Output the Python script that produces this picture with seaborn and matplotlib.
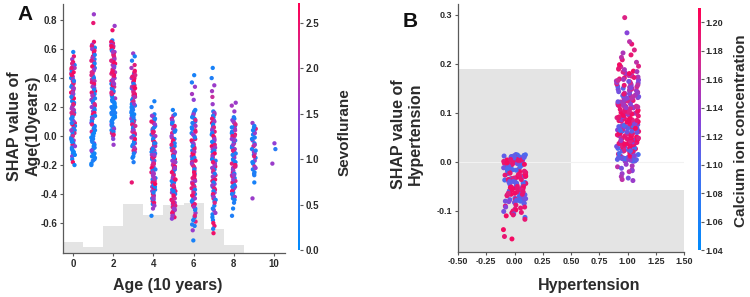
import numpy as np
import pandas as pd
import seaborn as sns
import matplotlib.pyplot as plt
from matplotlib.colors import LinearSegmentedColormap, Normalize
from matplotlib.cm import ScalarMappable

# ---------------- panel A: SHAP of Age (10 years), colour = Sevoflurane
ages = [0, 1, 2, 3, 4, 5, 6, 7, 8, 9, 10]

age0_shap = [0.58, 0.55, 0.53, 0.51, 0.49, 0.47, 0.46, 0.44, 0.43, 0.41, 0.40, 0.38, 0.37, 0.35, 0.33, 0.32,
             0.30, 0.29, 0.27, 0.25, 0.24, 0.22, 0.21, 0.19, 0.17, 0.16, 0.14, 0.12, 0.11, 0.09, 0.07, 0.06,
             0.04, 0.02, 0.01, -0.01, -0.03, -0.05, -0.06, -0.08, -0.10, -0.12, -0.14, -0.16, -0.18, -0.20,
             0.36, 0.20,
             0.50, 0.48, 0.45, 0.42, 0.39, 0.34, 0.31, 0.28, 0.26, 0.23, 0.18, 0.15, 0.13, 0.10, 0.08, 0.05,
             0.03, 0.00, -0.02, -0.04, -0.07, -0.09, -0.11, 0.44, 0.38, 0.30, 0.22, 0.12, 0.04, -0.03, 0.47,
             0.27, 0.16, 0.33, 0.09, -0.13]
age0_sevo = [0.3, 2.4, 1.6, 2.5, 0.4, 1.8, 2.6, 0.5, 2.2, 1.5, 0.3, 2.6, 1.9, 0.4, 2.3, 1.4, 2.5, 0.6, 2.1, 1.7,
             0.2, 2.4, 0.5, 1.6, 2.6, 0.3, 2.0, 1.5, 0.4, 2.5, 0.2, 1.8, 0.3, 2.2, 0.5, 0.3, 1.6, 0.2, 2.4, 0.4,
             0.3, 0.2, 1.4, 0.3, 2.5, 0.2, 2.3, 1.7,
             2.3, 1.6, 0.4, 2.5, 1.7, 0.3, 2.4, 1.5, 2.6, 0.4, 1.8, 2.2, 0.3, 1.6, 2.5, 0.4, 0.3, 2.1, 0.4, 0.2,
             1.5, 0.3, 0.2, 2.6, 0.5, 1.7, 2.3, 0.4, 1.6, 0.3, 2.4, 0.4, 2.2, 1.6, 0.5, 0.2]

age1_shap = [0.84, 0.78, 0.65, 0.63, 0.61, 0.59, 0.57, 0.55, 0.53, 0.51, 0.49, 0.47, 0.45, 0.43, 0.41, 0.39,
             0.37, 0.35, 0.33, 0.31, 0.29, 0.27, 0.25, 0.23, 0.21, 0.19, 0.17, 0.15, 0.13, 0.11, 0.09, 0.07,
             0.05, 0.03, 0.01, -0.01, -0.03, -0.05, -0.07, -0.09, -0.11, -0.13, -0.15, -0.17, -0.19, -0.20,
             0.42, 0.26, 0.00, -0.12,
             0.62, 0.60, 0.58, 0.56, 0.54, 0.52, 0.50, 0.48, 0.46, 0.44, 0.40, 0.38, 0.36, 0.34, 0.32, 0.30,
             0.28, 0.24, 0.22, 0.20, 0.18, 0.16, 0.14, 0.12, 0.10, 0.08, 0.06, 0.04, 0.02, -0.02, -0.04, -0.06,
             -0.08, -0.10, -0.14, -0.16]
age1_sevo = [1.6, 2.4, 2.5, 1.7, 0.4, 2.3, 1.5, 2.6, 0.3, 1.8, 2.2, 0.5, 1.6, 2.5, 0.4, 1.9, 2.4, 0.6, 1.5, 2.6,
             0.3, 2.0, 1.7, 0.5, 2.3, 0.4, 1.6, 2.5, 0.3, 0.5, 1.4, 0.2, 0.3, 2.1, 0.4, 0.2, 0.3, 1.5, 0.2, 0.4,
             0.3, 0.2, 0.3, 0.5, 0.2, 0.3, 2.2, 0.4, 0.3, 0.2,
             2.4, 1.6, 2.5, 0.4, 1.7, 2.3, 0.3, 2.6, 1.5, 2.2, 0.4, 1.8, 2.5, 1.6, 0.3, 2.4, 1.7, 0.4, 2.2, 1.5,
             0.3, 2.5, 0.4, 1.6, 0.3, 2.3, 0.4, 0.3, 0.2, 0.3, 0.4, 0.2, 0.3, 1.5, 0.2, 0.3]

age2_shap = [0.76, 0.73, 0.66, 0.64, 0.62, 0.60, 0.58, 0.56, 0.54, 0.52, 0.50, 0.48, 0.46, 0.44, 0.42, 0.40,
             0.38, 0.36, 0.34, 0.32, 0.30, 0.28, 0.26, 0.24, 0.22, 0.20, 0.18, 0.16, 0.14, 0.12, 0.10, 0.08,
             0.06, 0.04, 0.02, 0.00, -0.02, -0.06, 0.57, 0.49, 0.41, 0.33, 0.27, 0.21, 0.15, 0.11, 0.63, 0.37,
             0.65, 0.63, 0.61, 0.59, 0.55, 0.53, 0.51, 0.47, 0.45, 0.43, 0.39, 0.35, 0.31, 0.29, 0.25, 0.23,
             0.19, 0.17, 0.13, 0.09, 0.07, 0.05, 0.03, 0.01, 0.62, 0.58, 0.52, 0.44, 0.36, 0.30, 0.24, 0.20,
             0.16, 0.12, 0.14, 0.18]
age2_sevo = [1.6, 2.5, 0.4, 2.3, 1.7, 2.6, 1.5, 2.4, 2.0, 1.6, 2.5, 0.5, 2.2, 1.8, 2.6, 1.5, 2.3, 0.4, 2.1, 1.6,
             2.4, 0.3, 1.7, 0.3, 0.2, 0.4, 0.3, 0.2, 0.5, 0.3, 0.2, 1.5, 0.3, 0.4, 2.3, 1.6, 1.4, 1.6, 2.4, 1.7,
             2.5, 0.4, 0.3, 0.2, 0.4, 0.3, 2.2, 1.9,
             2.5, 1.6, 2.4, 0.4, 2.3, 1.7, 2.6, 1.5, 2.4, 2.2, 1.6, 2.5, 0.4, 2.3, 0.3, 0.2, 0.3, 0.4, 0.2, 0.3,
             0.4, 1.6, 0.3, 2.4, 2.6, 1.7, 2.3, 2.5, 1.6, 2.2, 0.3, 0.2, 0.4, 0.3, 0.2, 0.3]

age3_shap = [0.57, 0.55, 0.52, 0.49, 0.47, 0.45, 0.43, 0.41, 0.39, 0.37, 0.35, 0.33, 0.31, 0.29, 0.27, 0.25,
             0.23, 0.21, 0.19, 0.17, 0.15, 0.13, 0.11, 0.09, 0.07, 0.05, 0.03, 0.01, -0.01, -0.03, -0.05, -0.07,
             -0.09, -0.11, -0.14, -0.18, -0.32, 0.40, 0.34, 0.28, 0.22, 0.16, 0.10, 0.04, -0.04,
             0.44, 0.42, 0.40, 0.38, 0.36, 0.34, 0.32, 0.30, 0.28, 0.26, 0.24, 0.22, 0.20, 0.18, 0.16, 0.14,
             0.12, 0.10, 0.08, 0.06, 0.04, 0.02, 0.00, -0.02, -0.06, -0.08, -0.10, -0.12, 0.41, 0.33, 0.27,
             0.19, 0.13, 0.07, -0.01, -0.15]
age3_sevo = [1.6, 0.3, 0.4, 2.3, 1.7, 2.5, 0.4, 2.2, 2.6, 1.5, 2.4, 0.5, 2.1, 2.6, 1.8, 0.3, 2.3, 0.4, 1.6, 0.3,
             0.2, 2.4, 0.4, 0.3, 1.5, 0.2, 2.2, 1.7, 0.4, 2.5, 1.6, 0.3, 2.3, 1.5, 0.3, 0.4, 2.4, 2.5, 1.9, 2.2,
             0.3, 0.4, 2.1, 1.6, 0.3,
             2.5, 2.2, 1.6, 2.6, 0.4, 2.4, 1.7, 2.3, 2.5, 0.3, 2.2, 1.6, 0.3, 0.4, 0.3, 0.2, 1.5, 0.4, 2.4, 0.3,
             1.6, 2.3, 0.4, 2.5, 0.3, 1.7, 2.2, 0.4, 2.4, 2.6, 1.8, 0.3, 0.4, 2.1, 1.6, 0.3]

age4_shap = [0.24, 0.20, 0.15, 0.13, 0.11, 0.09, 0.07, 0.05, 0.03, 0.01, -0.01, -0.03, -0.05, -0.07, -0.09, -0.11,
             -0.13, -0.15, -0.17, -0.19, -0.21, -0.23, -0.25, -0.27, -0.29, -0.31, -0.33, -0.35, -0.37, -0.39,
             -0.41, -0.43, -0.45, -0.47, -0.50, -0.55, -0.06, -0.16, -0.26, -0.36, 0.06, -0.20, -0.30, -0.10, -0.40,
             0.14, 0.12, 0.10, 0.08, 0.04, 0.02, 0.00, -0.02, -0.04, -0.08, -0.12, -0.14, -0.18, -0.22, -0.24,
             -0.28, -0.32, -0.34, -0.38, -0.42, -0.44, -0.46, -0.48, -0.05, -0.15, -0.25, -0.35, 0.03, -0.13,
             -0.23, -0.33, -0.43, -0.09, -0.19, -0.29, -0.39]
age4_sevo = [0.3, 0.4, 0.3, 1.6, 0.4, 2.2, 0.3, 1.7, 2.5, 0.4, 1.5, 2.4, 0.3, 1.8, 2.6, 0.4, 1.6, 2.3, 0.5, 2.5,
             1.7, 0.3, 2.4, 1.5, 0.4, 2.2, 2.6, 1.6, 0.3, 2.1, 1.5, 0.4, 2.4, 0.3, 1.6, 0.3, 2.3, 0.4, 1.7, 2.5,
             0.3, 2.2, 0.4, 1.6, 2.4,
             1.6, 0.3, 2.4, 1.5, 0.4, 2.2, 1.7, 0.3, 2.5, 1.6, 0.4, 2.3, 1.5, 2.6, 0.3, 1.7, 2.4, 0.4, 1.6, 2.2,
             0.3, 2.5, 1.6, 0.4, 2.3, 1.7, 0.3, 2.4, 1.5, 0.4, 2.6, 1.6, 0.3, 2.2, 1.7, 0.4]

age5_shap = [0.18, 0.14, 0.12, 0.10, 0.08, 0.06, 0.04, 0.02, 0.00, -0.02, -0.04, -0.06, -0.08, -0.10, -0.12, -0.14,
             -0.16, -0.18, -0.20, -0.22, -0.24, -0.26, -0.28, -0.30, -0.32, -0.34, -0.36, -0.38, -0.40, -0.42,
             -0.44, -0.46, -0.48, -0.50, -0.52, -0.54, -0.56, -0.57, -0.07, -0.19, -0.31, -0.43, 0.05, -0.25, -0.37,
             0.15, 0.11, 0.07, 0.03, -0.01, -0.03, -0.05, -0.09, -0.11, -0.13, -0.15, -0.17, -0.21, -0.23, -0.27,
             -0.29, -0.33, -0.35, -0.39, -0.41, -0.45, -0.47, -0.49, -0.51, -0.53, -0.55, 0.09, -0.06, -0.14,
             -0.22, -0.30, -0.38, -0.46, -0.18, -0.34, -0.50]
age5_sevo = [0.3, 1.6, 2.4, 0.4, 1.7, 2.5, 0.3, 2.2, 1.5, 0.4, 2.6, 1.8, 0.3, 2.3, 1.6, 0.4, 2.5, 0.3, 1.7, 2.4,
             2.1, 0.4, 1.5, 2.6, 0.3, 2.2, 1.6, 2.4, 0.5, 1.8, 2.5, 1.6, 2.3, 1.7, 2.4, 1.6, 2.5, 1.5, 0.3, 2.2,
             0.4, 2.0, 1.6, 2.5, 0.3,
             0.4, 1.6, 2.3, 0.3, 1.7, 2.5, 0.4, 2.2, 1.6, 2.4, 0.3, 1.5, 2.6, 0.4, 2.3, 1.7, 0.3, 2.4, 1.6, 2.5,
             2.2, 1.6, 2.4, 1.7, 2.5, 1.6, 0.3, 2.3, 0.4, 1.6, 2.5, 0.3, 2.4, 1.7, 2.2, 1.6]

age6_shap = [0.42, 0.37, 0.34, 0.29, 0.25, 0.18, 0.16, 0.14, 0.12, 0.10, 0.08, 0.06, 0.04, 0.02, 0.00, -0.02,
             -0.04, -0.06, -0.08, -0.10, -0.12, -0.14, -0.16, -0.18, -0.20, -0.22, -0.24, -0.26, -0.28, -0.30,
             -0.32, -0.34, -0.36, -0.38, -0.40, -0.42, -0.44, -0.46, -0.48, -0.50, -0.53, -0.56, -0.59, -0.62,
             -0.65, -0.72, -0.27, -0.35,
             0.17, 0.15, 0.13, 0.11, 0.09, 0.07, 0.05, 0.03, 0.01, -0.01, -0.03, -0.05, -0.07, -0.09, -0.11,
             -0.13, -0.15, -0.17, -0.19, -0.21, -0.23, -0.25, -0.29, -0.31, -0.33, -0.37, -0.39, -0.41, -0.43,
             -0.45, -0.47, -0.49, -0.51, -0.55, -0.58, -0.61]
age6_sevo = [0.3, 0.4, 1.6, 1.7, 1.5, 0.3, 0.4, 1.6, 0.3, 0.5, 1.4, 0.3, 2.2, 0.4, 1.6, 2.5, 0.3, 1.7, 2.4, 0.4,
             2.6, 1.5, 0.3, 2.3, 2.5, 1.6, 2.4, 0.4, 2.2, 2.6, 1.7, 0.3, 2.4, 1.5, 0.4, 2.3, 0.3, 1.6, 2.5, 0.4,
             1.7, 0.3, 2.3, 0.4, 1.6, 0.3, 2.5, 2.2,
             0.4, 1.6, 0.3, 2.2, 0.4, 1.7, 0.3, 2.4, 1.5, 0.4, 2.5, 1.6, 0.3, 2.3, 1.7, 2.6, 0.4, 2.4, 1.6, 2.2,
             0.3, 2.5, 2.3, 1.6, 2.4, 0.4, 2.2, 2.5, 1.6, 0.3, 2.4, 1.7, 0.4, 2.3, 0.3, 0.4]

age7_shap = [0.47, 0.40, 0.35, 0.31, 0.27, 0.22, 0.17, 0.15, 0.13, 0.11, 0.09, 0.07, 0.05, 0.03, 0.01, -0.01,
             -0.03, -0.05, -0.07, -0.09, -0.11, -0.13, -0.15, -0.17, -0.19, -0.21, -0.23, -0.25, -0.27, -0.29,
             -0.31, -0.33, -0.35, -0.37, -0.39, -0.41, -0.43, -0.45, -0.48, -0.51, -0.54, -0.58, -0.62, -0.67, -0.20,
             0.16, 0.14, 0.12, 0.10, 0.08, 0.06, 0.04, 0.02, 0.00, -0.02, -0.04, -0.06, -0.08, -0.10, -0.12,
             -0.14, -0.16, -0.18, -0.22, -0.24, -0.26, -0.28, -0.30, -0.32, -0.34, -0.36, -0.38, -0.40, -0.42,
             -0.44, -0.46, -0.50, -0.53, -0.56, -0.60, -0.64]
age7_sevo = [0.3, 0.4, 1.6, 1.7, 2.0, 1.6, 0.4, 2.3, 0.3, 1.6, 2.5, 0.4, 1.7, 2.4, 0.3, 2.2, 1.5, 0.4, 2.6, 1.6,
             0.3, 2.3, 2.5, 0.4, 1.7, 2.4, 0.3, 1.6, 2.2, 0.4, 2.5, 1.5, 0.3, 2.4, 1.6, 0.4, 2.3, 0.3, 0.4, 1.6,
             0.3, 0.4, 2.4, 2.5, 1.7,
             1.6, 0.4, 2.4, 1.7, 0.3, 2.2, 1.5, 0.4, 2.5, 1.6, 0.3, 2.3, 1.7, 0.4, 2.6, 1.6, 0.3, 2.4, 1.5, 2.2,
             0.4, 1.7, 2.5, 0.3, 1.6, 2.3, 0.4, 2.4, 1.6, 0.3, 2.2, 0.4, 1.6, 0.3, 2.5, 0.4]

age8_shap = [0.23, 0.21, 0.17, 0.13, 0.11, 0.09, 0.07, 0.05, 0.03, 0.01, -0.01, -0.03, -0.05, -0.07, -0.09, -0.11,
             -0.13, -0.15, -0.17, -0.19, -0.21, -0.23, -0.25, -0.27, -0.29, -0.31, -0.33, -0.35, -0.37, -0.39,
             -0.41, -0.43, -0.46, -0.50, -0.55, 0.00, -0.16, -0.24, -0.32, -0.08,
             0.12, 0.10, 0.08, 0.06, 0.04, 0.02, 0.00, -0.02, -0.04, -0.06, -0.10, -0.12, -0.14, -0.18, -0.20,
             -0.22, -0.26, -0.28, -0.30, -0.34, -0.36, -0.38, -0.40, -0.42, -0.44, -0.03, -0.13, -0.21, -0.27, -0.35]
age8_sevo = [1.6, 1.7, 1.6, 0.4, 1.5, 2.3, 0.3, 1.7, 0.4, 2.5, 1.6, 0.3, 2.2, 0.4, 1.6, 2.4, 0.3, 1.5, 0.4, 2.3,
             1.7, 0.3, 2.5, 1.6, 0.4, 2.2, 0.3, 1.6, 2.4, 0.4, 1.5, 0.3, 0.4, 0.3, 0.4, 2.1, 0.3, 1.7, 2.4, 0.4,
             0.4, 1.6, 2.2, 0.3, 1.7, 0.4, 2.4, 1.5, 0.3, 1.6, 2.3, 0.4, 1.7, 0.3, 2.5, 1.6, 0.4, 2.2, 1.5, 0.3,
             1.6, 2.4, 0.4, 1.7, 0.3, 1.6, 0.4, 2.3, 1.5, 0.4]

age9_shap = [0.09, 0.07, 0.05, 0.03, 0.01, -0.01, -0.03, -0.05, -0.07, -0.09, -0.11, -0.13, -0.15, -0.17, -0.19,
             -0.21, -0.23, -0.25, -0.27, -0.32, -0.43, -0.12,
             0.06, 0.02, -0.02, -0.06, -0.10, -0.14, -0.18, -0.22, -0.26, 0.04]
age9_sevo = [1.6, 0.4, 2.3, 1.5, 0.3, 0.4, 1.6, 0.3, 2.2, 0.4, 1.7, 0.3, 0.4, 1.5, 0.3, 2.0, 0.4, 0.3, 0.4, 0.3,
             1.6, 1.7,
             0.4, 1.6, 0.3, 1.7, 0.4, 2.3, 0.3, 1.5, 0.4, 0.3]

age10_shap = [-0.05, -0.09, -0.19]
age10_sevo = [1.5, 0.5, 1.6]

# gray distribution of Age behind the points
age_counts = [115, 65, 270, 490, 385, 480, 500, 240, 80, 5, 2]

age_xticks = [0, 2, 4, 6, 8, 10]
age_yticks = [-0.6, -0.4, -0.2, 0.0, 0.2, 0.4, 0.6, 0.8]
sevo_ticks = [0.0, 0.5, 1.0, 1.5, 2.0, 2.5]

# ---------------- panel B: SHAP of Hypertension, colour = Calcium ion concentration
htn_levels = [0, 1]

htn0_shap = [.015, .014, .013, .012, .011, .010, .009, .008, .007, .006, .005, .004, .003, .002, .001, 0,
             -.001, -.002, -.003, -.004, -.006, -.007, -.008, -.009, -.011, -.012, -.013, -.015, -.016, -.017,
             -.019, -.020, -.021, -.023, -.024, -.025, -.027, -.028, -.030, -.031, -.032, -.034, -.035, -.037,
             -.038, -.039, -.041, -.042, -.044, -.045, -.046, -.048, -.049, -.051, -.052, -.053, -.055, -.056,
             -.058, -.059, -.060, -.062, -.063, -.065, -.066, -.067, -.069, -.070, -.072, -.073, -.074, -.076,
             -.077, -.079, -.080, -.082, -.083, -.085, -.088, -.090, -.092, -.094, -.096, -.098, -.100, -.101,
             -.103, -.104, -.106, -.108, -.110, -.113, -.117, -.138, -.152, -.157,
             .0145, .0125, .0105, .0085, .0065, .0045, .0025, .0005, -.0015, -.0035,
             -.005, -.0065, -.0085, -.010, -.014, -.018, -.022, -.026, -.029, -.033,
             -.036, -.040, -.043, -.047, -.050, -.054, -.057, -.061, -.064, -.068,
             -.071, -.075, -.078, -.081, -.084, .013, .009, .003, -.005, -.010,
             -.017, -.022, -.029, -.036, -.043, -.050, -.057, -.064, -.071, -.078,
             .011, .005, -.002, -.014, -.026, -.040, -.052, -.066, -.080, -.092]
htn0_ca = [1.11, 1.10, 1.12, 1.11, 1.19, 1.10, 1.11, 1.13, 1.10, 1.11,
           1.19, 1.20, 1.11, 1.18, 1.19, 1.12, 1.20, 1.10, 1.19, 1.18,
           1.11, 1.10, 1.19, 1.11, 1.10, 1.12, 1.11, 1.19, 1.10, 1.11,
           1.19, 1.20, 1.18, 1.19, 1.11, 1.20, 1.19, 1.18, 1.12, 1.19,
           1.20, 1.19, 1.11, 1.10, 1.19, 1.11, 1.12, 1.10, 1.19, 1.11,
           1.19, 1.20, 1.18, 1.19, 1.11, 1.20, 1.19, 1.18, 1.20, 1.19,
           1.11, 1.19, 1.10, 1.12, 1.20, 1.11, 1.19, 1.10, 1.18, 1.11,
           1.12, 1.19, 1.11, 1.13, 1.10, 1.19, 1.12, 1.11,
           1.19, 1.20, 1.13, 1.19, 1.18, 1.20, 1.19, 1.12, 1.19, 1.20,
           1.11, 1.19, 1.20, 1.10, 1.19, 1.20, 1.19, 1.20,
           1.10, 1.11, 1.10, 1.12, 1.11, 1.19, 1.20, 1.18, 1.19, 1.12,
           1.19, 1.18, 1.11, 1.10, 1.11, 1.10, 1.19, 1.20, 1.19, 1.18,
           1.19, 1.11, 1.10, 1.12, 1.19, 1.20, 1.18, 1.19, 1.20, 1.19,
           1.11, 1.12, 1.10, 1.13, 1.11, 1.10, 1.11, 1.19, 1.20, 1.11,
           1.10, 1.19, 1.20, 1.19, 1.11, 1.19, 1.20, 1.18, 1.12, 1.11,
           1.11, 1.19, 1.20, 1.10, 1.19, 1.11, 1.20, 1.19, 1.12, 1.19]

htn1_shap = [.001, .002, .003, .004, .005, .006, .007, .008, .009, .010, .002, .006,
             .011, .012, .014, .015, .016, .018, .019, .020, .022, .023, .024, .026, .027, .028, .030, .031,
             .032, .033, .034, .035,
             .036, .037, .038, .039, .040, .041, .042, .043, .044, .045, .046, .047, .048, .050, .051, .053,
             .054, .056, .057, .059,
             .060, .061, .062, .063, .065, .066, .067, .068, .070, .071, .072, .074, .075, .076, .078, .079,
             .080, .082, .083, .084, .086, .087, .088, .090, .091, .092, .094, .095, .096, .098, .099, .100,
             .102, .104, .106, .108,
             .110, .111, .113, .114, .116, .117, .119, .120, .122, .123, .125, .126, .128, .129,
             .131, .133, .134, .136, .137, .139, .140, .142, .144, .145, .147, .148, .150, .152, .153, .155,
             .156, .158, .160, .161, .163, .165, .167, .169,
             .171, .173, .175, .177, .179, .181, .183, .185, .188, .191, .194, .198, .203, .208,
             .213, .218, .222, .228, .240, .245, .263, .294,
             -.005, -.008, -.010, -.013, -.016, -.018, -.020, -.024, -.030, -.033, -.036, -.038,
             .0015, .0025, .0035, .0045, .0055, .0065, .0075, .0085,
             .0115, .013, .0145, .017, .0195, .021, .0235, .025, .0275, .029, .0315, .0335, .0125, .0225,
             .0365, .0395, .0415, .0445, .0465, .049, .052, .055, .058, .0375, .0435, .0485, .0525, .0575,
             .0605, .064, .0665, .069, .0715, .0735, .0765, .0775, .0625, .0685, .0745, .0795,
             .081, .0845, .0855, .089, .0935, .097, .1005, .101, .103, .105, .107, .109, .0825, .0915, .0975, .1035,
             .1105, .112, .115, .118, .121, .124, .127, .1295, .1135, .1225,
             .130, .132, .135, .138, .141, .143, .146, .149, .151, .154, .157, .159, .162, .164, .166, .168,
             .172, .176, .180, .184, .189, .195]
htn1_ca = [1.11, 1.13, 1.10, 1.12, 1.11, 1.14, 1.10, 1.13, 1.12, 1.11, 1.14, 1.10,
           1.11, 1.19, 1.12, 1.10, 1.18, 1.13, 1.20, 1.11, 1.19, 1.12, 1.11, 1.18, 1.19, 1.10, 1.20, 1.12,
           1.19, 1.11, 1.18, 1.20,
           1.19, 1.20, 1.18, 1.19, 1.20, 1.13, 1.19, 1.18, 1.20, 1.19, 1.11, 1.20, 1.19, 1.18, 1.20, 1.19,
           1.14, 1.20, 1.18, 1.19,
           1.11, 1.12, 1.19, 1.10, 1.13, 1.11, 1.18, 1.12, 1.10, 1.20, 1.11, 1.13, 1.19, 1.12, 1.11, 1.18,
           1.19, 1.20, 1.18, 1.19, 1.14, 1.20, 1.19, 1.18, 1.20, 1.13, 1.19, 1.20, 1.18, 1.19, 1.15, 1.20,
           1.19, 1.18, 1.20, 1.19,
           1.15, 1.14, 1.19, 1.16, 1.13, 1.15, 1.18, 1.14, 1.16, 1.12, 1.19, 1.15, 1.14, 1.17,
           1.14, 1.12, 1.19, 1.15, 1.11, 1.13, 1.16, 1.18, 1.12, 1.14, 1.19, 1.13, 1.11, 1.15, 1.17, 1.12,
           1.19, 1.14, 1.16, 1.12, 1.18, 1.15, 1.13, 1.19,
           1.19, 1.15, 1.20, 1.16, 1.19, 1.14, 1.18, 1.20, 1.15, 1.19, 1.17, 1.20, 1.16, 1.19,
           1.16, 1.19, 1.15, 1.18, 1.19, 1.16, 1.13, 1.18,
           1.14, 1.15, 1.16, 1.12, 1.15, 1.13, 1.16, 1.14, 1.15, 1.12, 1.16, 1.14,
           1.12, 1.10, 1.13, 1.11, 1.14, 1.10, 1.12, 1.11,
           1.19, 1.11, 1.20, 1.10, 1.12, 1.19, 1.18, 1.11, 1.10, 1.20, 1.12, 1.19, 1.13, 1.11,
           1.20, 1.19, 1.18, 1.20, 1.19, 1.20, 1.18, 1.19, 1.20, 1.19, 1.14, 1.18, 1.20, 1.19,
           1.12, 1.10, 1.19, 1.11, 1.13, 1.10, 1.12, 1.19, 1.11, 1.20, 1.10, 1.13,
           1.20, 1.19, 1.18, 1.20, 1.19, 1.14, 1.20, 1.18, 1.19, 1.20, 1.19, 1.18, 1.20, 1.19, 1.20, 1.18,
           1.14, 1.16, 1.19, 1.13, 1.15, 1.18, 1.14, 1.16, 1.17, 1.12,
           1.13, 1.16, 1.11, 1.19, 1.14, 1.12, 1.15, 1.18, 1.13, 1.11, 1.16, 1.19, 1.14, 1.12, 1.17, 1.15,
           1.19, 1.16, 1.20, 1.15, 1.19, 1.18]

htn_counts = [3020, 1020]

htn_xticks = [-0.5, -0.25, 0.0, 0.25, 0.5, 0.75, 1.0, 1.25, 1.5]
htn_yticks = [-0.1, 0.0, 0.1, 0.2, 0.3]
ca_ticks = [1.04, 1.06, 1.08, 1.10, 1.12, 1.14, 1.16, 1.18, 1.20]


def build_frame(levels, shap_lists, colour_lists, name):
    rows = []
    for lev, s, c in zip(levels, shap_lists, colour_lists):
        assert len(s) == len(c), (name, lev, len(s), len(c))
        rows += [(lev, a, b) for a, b in zip(s, c)]
    return pd.DataFrame(rows, columns=[name, "shap", "colour"])


df_age = build_frame(ages,
                     [age0_shap, age1_shap, age2_shap, age3_shap, age4_shap, age5_shap,
                      age6_shap, age7_shap, age8_shap, age9_shap, age10_shap],
                     [age0_sevo, age1_sevo, age2_sevo, age3_sevo, age4_sevo, age5_sevo,
                      age6_sevo, age7_sevo, age8_sevo, age9_sevo, age10_sevo], "age")
df_htn = build_frame(htn_levels, [htn0_shap, htn1_shap], [htn0_ca, htn1_ca], "htn")

# shap-like red/blue colour map (blue stays blue a bit longer, purple in the middle)
shap_cmap = LinearSegmentedColormap.from_list(
    "shap_red_blue", [(0.0, "#008bfb"), (0.35, "#4a6cf0"), (0.55, "#8f3fd6"),
                      (0.78, "#d42a90"), (1.0, "#ff0052")])

sns.set_style("ticks")
plt.rcParams['font.family'] = ['Liberation Sans', 'DejaVu Sans']
plt.rcParams['font.weight'] = 'bold'
np.random.seed(3)

fig = plt.figure(figsize=(7.5, 2.97), dpi=100)
spine_col = "#5a5a5a"
text_col = "#2b2b2b"
hist_col = "#e4e4e4"


def style_axes(ax, xticks, yticks, xfmt, yfmt, labelsize):
    ax.set_xticks(xticks)
    ax.set_xticklabels([xfmt.format(t) for t in xticks])
    ax.set_yticks(yticks)
    ax.set_yticklabels([yfmt.format(t) for t in yticks])
    ax.tick_params(length=2.5, width=0.8, pad=1.5, labelsize=labelsize, color=spine_col, labelcolor=text_col)
    for side in ["top", "right"]:
        ax.spines[side].set_visible(False)
    for side in ["left", "bottom"]:
        ax.spines[side].set_color(spine_col)
        ax.spines[side].set_linewidth(0.9)
    ax.set_xlabel("")
    ax.set_ylabel("")


def add_cbar(rect, vmin, vmax, ticks, fmt, labelsize):
    cax = fig.add_axes(rect)
    cb = fig.colorbar(ScalarMappable(norm=Normalize(vmin, vmax), cmap=shap_cmap), cax=cax)
    cb.outline.set_visible(False)
    cb.set_ticks(ticks)
    cb.set_ticklabels([fmt.format(t) for t in ticks])
    cax.tick_params(length=2, width=0.8, pad=1.5, labelsize=labelsize, color=spine_col, labelcolor=text_col)
    return cb


# ---------------- panel A
ax_a = fig.add_axes([0.084, 0.148, 0.296, 0.838])
ax_a_hist = ax_a.twinx()
sns.histplot(x=ages, weights=age_counts, discrete=True, element="step", fill=True,
             color=hist_col, alpha=1, linewidth=0, ax=ax_a_hist)
ax_a_hist.set_ylim(0, 2490)
ax_a_hist.set_axis_off()
ax_a.set_zorder(ax_a_hist.get_zorder() + 1)
ax_a.patch.set_visible(False)

sns.stripplot(data=df_age, x="age", y="shap", hue="colour", palette=shap_cmap, hue_norm=(0, 2.72),
              native_scale=True, jitter=0.1, size=3.1, linewidth=0, legend=False, ax=ax_a)
style_axes(ax_a, age_xticks, age_yticks, "{:d}", "{:.1f}", 7)
ax_a.set_xlim(-0.5, 10.55)
ax_a.set_ylim(-0.807, 0.91)
add_cbar([0.397, 0.158, 0.0035, 0.832], 0, 2.72, sevo_ticks, "{:.1f}", 7)

# ---------------- panel B
ax_b = fig.add_axes([0.6107, 0.1525, 0.3013, 0.8345])
ax_b_hist = ax_b.twinx()
sns.histplot(x=htn_levels, weights=htn_counts, discrete=True, element="step", fill=True,
             color=hist_col, alpha=1, linewidth=0, ax=ax_b_hist)
ax_b_hist.set_ylim(0, 4094)
ax_b_hist.set_axis_off()
ax_b.set_zorder(ax_b_hist.get_zorder() + 1)
ax_b.patch.set_visible(False)
ax_b.axhline(0, color="#f2f2f2", lw=0.8, zorder=0)

sns.stripplot(data=df_htn, x="htn", y="shap", hue="colour", palette=shap_cmap, hue_norm=(1.04, 1.21),
              native_scale=True, jitter=0.1, size=3.6, linewidth=0, legend=False, ax=ax_b)
style_axes(ax_b, htn_xticks, htn_yticks, "{:.2f}", "{:.1f}", 6.5)
ax_b.set_xlim(-0.5, 1.5)
ax_b.set_ylim(-0.183, 0.322)
add_cbar([0.931, 0.158, 0.0035, 0.815], 1.04, 1.21, ca_ticks, "{:.2f}", 6.5)

# ---------------- texts
fig.text(0.034, 0.951, "A", fontsize=15, fontweight="bold", ha="center", va="center", color="#111111")
fig.text(0.547, 0.928, "B", fontsize=15, fontweight="bold", ha="center", va="center", color="#111111")
fig.text(0.032, 0.575, "SHAP value of\nAge(10years)", rotation=90, fontsize=11.5, fontweight="bold",
         ha="center", va="center", multialignment="center", linespacing=1.25, color=text_col)
fig.text(0.543, 0.549, "SHAP value of\nHypertension", rotation=90, fontsize=11.5, fontweight="bold",
         ha="center", va="center", multialignment="center", linespacing=1.15, color=text_col)
fig.text(0.223, 0.04, "Age (10 years)", fontsize=11.5, fontweight="bold", ha="center", va="center",
         color=text_col)
fig.text(0.785, 0.04, "Hypertension", fontsize=11.5, fontweight="bold", ha="center", va="center",
         color=text_col)
fig.text(0.46, 0.556, "Sevoflurane", rotation=90, fontsize=11, fontweight="bold", ha="center", va="center",
         color=text_col)
fig.text(0.988, 0.559, "Calcium ion concentration", rotation=90, fontsize=11, fontweight="bold",
         ha="center", va="center", color=text_col)

fig.savefig("out.png", dpi=100, facecolor="white")
